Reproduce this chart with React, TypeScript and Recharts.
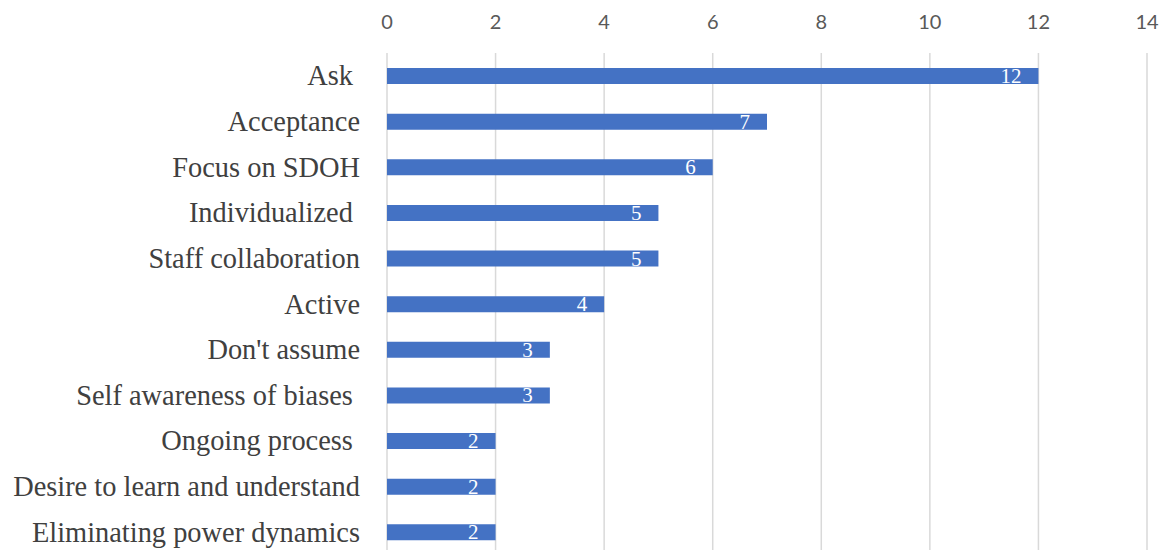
import { BarChart, Bar, XAxis, YAxis, CartesianGrid, LabelList } from "recharts";

const categories = [
  "Ask ",
  "Acceptance",
  "Focus on SDOH",
  "Individualized ",
  "Staff collaboration",
  "Active",
  "Don't assume",
  "Self awareness of biases ",
  "Ongoing process ",
  "Desire to learn and understand",
  "Eliminating power dynamics",
];
const counts = [12, 7, 6, 5, 5, 4, 3, 3, 2, 2, 2];
const xTicks = [0, 2, 4, 6, 8, 10, 12, 14];

const data = categories.map((name, i) => ({ name, value: counts[i] }));

const SERIF = "'Liberation Serif', 'Times New Roman', serif";

type TickProps = { x?: number; y?: number; payload?: { value: string } };
function CategoryTick({ x, y, payload }: TickProps) {
  return (
    <text
      x={x}
      y={y}
      textAnchor="end"
      dominantBaseline="central"
      fill="#404040"
      style={{ whiteSpace: "pre", fontFamily: SERIF, fontSize: 28.4 }}
    >
      {payload?.value}
    </text>
  );
}

type LabelProps = { x?: number; y?: number; width?: number; height?: number; value?: number };
function ValueLabel({ x = 0, y = 0, width = 0, height = 0, value }: LabelProps) {
  return (
    <text
      x={x + width - 17}
      y={y + height / 2}
      textAnchor="end"
      dominantBaseline="central"
      fill="#ffffff"
      style={{ fontFamily: SERIF, fontSize: 21 }}
    >
      {value}
    </text>
  );
}

export default function App() {
  return (
    <div style={{ position: "absolute", left: 0, top: 0, background: "#fff" }}>
      <BarChart
        width={1167}
        height={560}
        data={data}
        layout="vertical"
        margin={{ top: 0, right: 20, bottom: 5, left: 0 }}
        barSize={16}
      >
        <CartesianGrid horizontal={false} stroke="#d9d9d9" strokeWidth={1.5} />
        <XAxis
          type="number"
          orientation="top"
          domain={[0, 14]}
          ticks={xTicks}
          height={53}
          axisLine={false}
          tickLine={false}
          tickSize={0}
          tickMargin={24}
          tick={{ fill: "#595959", fontSize: 20, fontFamily: "Lato, sans-serif" }}
        />
        <YAxis
          type="category"
          dataKey="name"
          width={387}
          axisLine={false}
          tickLine={false}
          tickSize={0}
          tickMargin={27}
          interval={0}
          tick={<CategoryTick />}
        />
        <Bar dataKey="value" fill="#4472C4" isAnimationActive={false}>
          <LabelList dataKey="value" content={<ValueLabel />} />
        </Bar>
      </BarChart>
    </div>
  );
}
